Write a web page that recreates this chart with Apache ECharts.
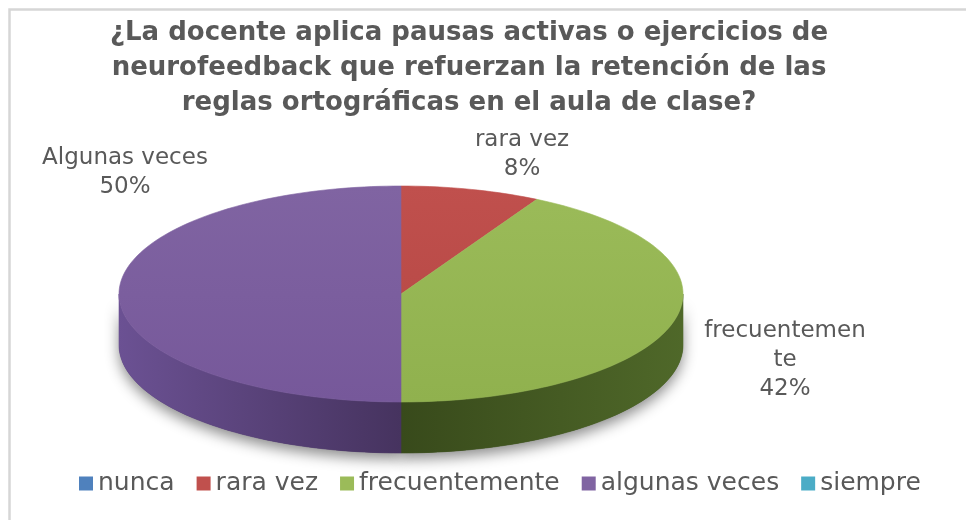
<!DOCTYPE html>
<html>
<head>
<meta charset="utf-8">
<title>Pausas activas y neurofeedback</title>
<script src="https://cdn.jsdelivr.net/npm/echarts@6/dist/echarts.min.js"></script>
<style>
  html, body { margin: 0; padding: 0; background: #fff; }
  #chart { width: 966px; height: 520px; }
</style>
</head>
<body>
<div id="chart"></div>
<script>
// categorías y porcentajes
const categories = ['nunca', 'rara vez', 'frecuentemente', 'algunas veces', 'siempre']
const values = [0, 8, 42, 50, 0]
// texto de las etiquetas tal como sale en el gráfico (Excel corta la palabra larga)
const labelNames = ['nunca', 'rara vez', 'frecuentemen\nte', 'Algunas veces', 'siempre']

const titleText = '¿La docente aplica pausas activas o ejercicios de\n' +
  'neurofeedback que refuerzan la retención de las\n' +
  'reglas ortográficas en el aula de clase?'

// paleta Office 2007: cara superior, pared clara, pared oscura
const topColors = ['#4f81bd', '#c0504d', '#9bbb59', '#8064a2', '#4bacc6']
const topShade = ['#4673a8', '#b44643', '#90b14e', '#76589a', '#429bb3']
const wallLight = ['#3f6897', '#96403d', '#4f6829', '#6b5193', '#3a8aa0']
const wallDark = ['#2c4a6c', '#6a2c2a', '#384a1b', '#46335f', '#2a6676']

// geometría de la tarta 3D (elipse + grosor)
const pie = { cx: 401, cy: 294, rx: 282, ry: 108, depth: 51 }
// posición de las etiquetas de datos
const labelPos = [null, [522, 155], [785, 360], [125, 173], null]

const FONT = '"DejaVu Sans", "Open Sans", sans-serif'
const TEXT = '#595959'

const total = values.reduce((a, b) => a + b, 0)
const starts = []
let acc = 0
values.forEach(v => { starts.push(acc / total * 360); acc += v })

// punto sobre la elipse, ángulo en grados desde las 12 en sentido horario
function pt(deg, dy) {
  const r = deg * Math.PI / 180
  return [pie.cx + pie.rx * Math.sin(r), pie.cy - pie.ry * Math.cos(r) + (dy || 0)]
}

function arc(a, b, dy) {
  const pts = []
  const n = Math.max(2, Math.ceil((b - a) / 1.5))
  for (let i = 0; i <= n; i++) pts.push(pt(a + (b - a) * i / n, dy))
  return pts
}

function wallFill(i) {
  return new echarts.graphic.LinearGradient(pie.cx - pie.rx, 0, pie.cx + pie.rx, 0, [
    { offset: 0, color: wallLight[i] },
    { offset: 0.5, color: wallDark[i] },
    { offset: 1, color: wallLight[i] }
  ], true)
}

function topFill(i) {
  return new echarts.graphic.LinearGradient(0, pie.cy - pie.ry, 0, pie.cy + pie.ry, [
    { offset: 0, color: topColors[i] },
    { offset: 1, color: topShade[i] }
  ], true)
}

function renderSlice(params, api) {
  const i = params.dataIndex
  const v = api.value(0)
  if (!v) return
  const a = starts[i]
  const b = a + v / total * 360
  const children = []

  // pared frontal: sólo se ve la parte entre 90° y 270°
  const fa = Math.max(a, 90)
  const fb = Math.min(b, 270)
  if (fb > fa) {
    const wall = arc(fa, fb, 0).concat(arc(fa, fb, pie.depth).reverse())
    // sombra suave debajo
    children.push({
      type: 'polygon', z2: 0, shape: { points: wall },
      style: { fill: wallDark[i], shadowBlur: 14, shadowOffsetY: 6, shadowColor: 'rgba(0,0,0,0.45)' }
    })
    children.push({
      type: 'polygon', z2: 1, shape: { points: wall },
      style: { fill: wallFill(i), stroke: wallFill(i), lineWidth: 0.6 }
    })
  }

  // cara superior
  const fill = topFill(i)
  children.push({
    type: 'polygon', z2: 10,
    shape: { points: [[pie.cx, pie.cy]].concat(arc(a, b, 0)) },
    style: { fill: fill, stroke: fill, lineWidth: 0.6 }
  })

  // etiqueta de datos
  const pos = labelPos[i]
  if (pos) {
    children.push({
      type: 'text', z2: 20, x: pos[0], y: pos[1],
      style: {
        text: labelNames[i] + '\n' + Math.round(v / total * 100) + '%',
        fill: TEXT, fontFamily: FONT, fontSize: 23, lineHeight: 29,
        align: 'center', verticalAlign: 'middle'
      }
    })
  }
  return { type: 'group', children }
}

const chart = echarts.init(document.getElementById('chart'))

chart.setOption({
  backgroundColor: '#fff',
  animation: false,
  title: {
    text: titleText,
    left: 469,
    top: 16,
    textAlign: 'center',
    padding: 0,
    textStyle: { fontFamily: FONT, fontSize: 26, fontWeight: 'bold', color: TEXT, lineHeight: 35 }
  },
  legend: {
    data: categories,
    left: 79,
    top: 471,
    icon: 'rect',
    itemWidth: 14,
    itemHeight: 14,
    itemGap: 22,
    padding: 0,
    selectedMode: false,
    textStyle: { fontFamily: FONT, fontSize: 25, color: TEXT, lineHeight: 24 }
  },
  graphic: [{
    type: 'polyline', silent: true,
    shape: { points: [[9.5, 540], [9.5, 9.5], [990, 9.5]] },
    style: { stroke: '#d6d6d6', lineWidth: 2.5, fill: null }
  }],
  series: [
    {
      // tarta 3D dibujada a partir de los valores
      type: 'custom',
      name: 'respuestas',
      coordinateSystem: 'none',
      renderItem: renderSlice,
      data: categories.map((n, i) => ({ name: n, value: values[i] }))
    },
    {
      // serie invisible que alimenta la leyenda
      type: 'pie',
      silent: true,
      radius: [0, 0],
      center: [pie.cx, pie.cy],
      label: { show: false },
      labelLine: { show: false },
      data: categories.map((n, i) => ({ name: n, value: values[i], itemStyle: { color: topColors[i] } }))
    }
  ]
})

window.addEventListener('resize', () => chart.resize())
</script>
</body>
</html>
